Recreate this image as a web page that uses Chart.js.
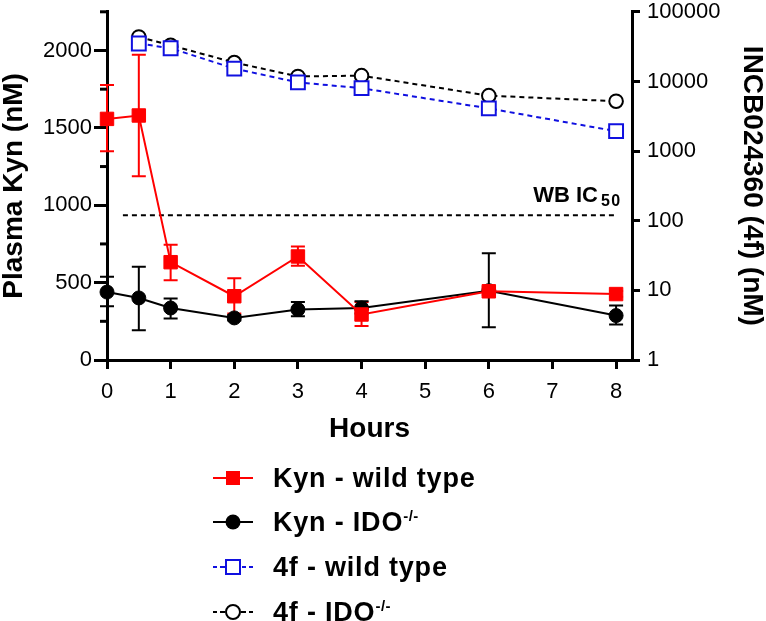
<!DOCTYPE html>
<html><head><meta charset="utf-8">
<script src="https://cdn.jsdelivr.net/npm/chart.js@4/dist/chart.umd.min.js"></script>
<style>
html,body{margin:0;padding:0;background:#fff;}
#wrap{position:relative;width:766px;height:621px;overflow:hidden;}
#c{position:absolute;left:0;top:0;}
.leg{position:absolute;left:212px;height:40px;display:flex;align-items:center;font-family:'Liberation Sans',Arial,sans-serif;font-weight:bold;font-size:27px;letter-spacing:0.8px;color:#000;white-space:nowrap;}
.leg svg{width:42px;height:24px;margin-right:19px;flex:none;}
.leg sup{font-size:15px;vertical-align:10px;line-height:0;letter-spacing:0.5px;}
</style></head>
<body>
<div id="wrap">
<canvas id="c" width="766" height="621"></canvas>
<div class="leg" style="top:458px"><svg viewBox="0 0 42 24"><line x1="1" y1="12" x2="41" y2="12" stroke="#ff0000" stroke-width="2"/><rect x="14" y="5" width="14" height="14" fill="#ff0000"/></svg><span id="l0"></span></div>
<div class="leg" style="top:502px"><svg viewBox="0 0 42 24"><line x1="1" y1="12" x2="41" y2="12" stroke="#000" stroke-width="2"/><circle cx="21" cy="12" r="7.5" fill="#000"/></svg><span id="l1"></span></div>
<div class="leg" style="top:547px"><svg viewBox="0 0 42 24"><g stroke="#1010e0" stroke-width="2"><line x1="1" y1="12" x2="5" y2="12"/><line x1="8" y1="12" x2="13" y2="12"/><line x1="30" y1="12" x2="34" y2="12"/><line x1="37" y1="12" x2="41" y2="12"/><rect x="14" y="5" width="14" height="14" fill="#fff"/></g></svg><span id="l2"></span></div>
<div class="leg" style="top:592px"><svg viewBox="0 0 42 24"><g stroke="#000" stroke-width="2"><line x1="1" y1="12" x2="5" y2="12"/><line x1="8" y1="12" x2="13" y2="12"/><line x1="29" y1="12" x2="34" y2="12"/><line x1="37" y1="12" x2="41" y2="12"/><circle cx="21" cy="12" r="7" fill="#fff"/></g></svg><span id="l3"></span></div>
</div>
<script>
// ---- data ----
const hours = [0, 0.5, 1, 2, 3, 4, 6, 8];
const kynWildType = [1558, 1580, 632, 412, 669, 294, 444, 426];
const kynWildTypeHi = [1777, 1972, 744, 529, 733, 375, 470, 446];
const kynWildTypeLo = [1349, 1188, 516, 300, 609, 219, 420, 408];
const kynIDO = [439, 401, 336, 272, 326, 336, 448, 287];
const kynIDOHi = [538, 603, 397, 290, 375, 379, 690, 352];
const kynIDOLo = [347, 193, 268, 255, 283, 300, 212, 229];
const hours4f = [0.5, 1, 2, 3, 4, 6, 8];
const f4WildType = [35000, 30000, 15300, 9700, 8000, 4100, 1930];
const f4IDO = [43500, 33000, 18700, 11800, 12100, 6250, 5200];
const ic50Hours = [0.25, 8];
const ic50Value = [120, 120];
const ic50Label = 'WB IC';
const ic50Sub = '50';
const xTicks = [0, 1, 2, 3, 4, 5, 6, 7, 8];
const yLeftTicks = [0, 500, 1000, 1500, 2000];
const yLeftMinor = [250, 750, 1250, 1750, 2250];
const yRightTicks = [1, 10, 100, 1000, 10000, 100000];
const seriesNames = ['Kyn - wild type', 'Kyn - IDO', '4f - wild type', '4f - IDO'];
const seriesSup = ['', '-/-', '', '-/-'];
const xTitle = 'Hours';
const yLeftTitle = 'Plasma Kyn (nM)';
const yRightTitle = 'INCB024360 (4f) (nM)';

// legend text
seriesNames.forEach((n, i) => {
  const el = document.getElementById('l' + i);
  el.textContent = n;
  if (seriesSup[i]) { const s = document.createElement('sup'); s.textContent = seriesSup[i]; el.appendChild(s); }
});

const FONT = "'Liberation Sans', Arial, sans-serif";
const pts = (xs, ys) => xs.map((x, i) => ({x: x, y: ys[i]}));

const extras = {
  id: 'extras',
  beforeDatasetsDraw(chart) {
    const ctx = chart.ctx, xs = chart.scales.x;
    chart.data.datasets.forEach(ds => {
      if (!ds.errHi) return;
      const ys = chart.scales[ds.yAxisID || 'y'];
      ctx.save();
      ctx.strokeStyle = ds.borderColor; ctx.lineWidth = 2;
      ds.data.forEach((p, j) => {
        const x = xs.getPixelForValue(p.x);
        const yh = ys.getPixelForValue(ds.errHi[j]), yl = ys.getPixelForValue(ds.errLo[j]);
        ctx.beginPath();
        ctx.moveTo(x, yh); ctx.lineTo(x, yl);
        ctx.moveTo(x - 7, yh); ctx.lineTo(x + 7, yh);
        ctx.moveTo(x - 7, yl); ctx.lineTo(x + 7, yl);
        ctx.stroke();
      });
      ctx.restore();
    });
  },
  afterDraw(chart) {
    const ctx = chart.ctx, y = chart.scales.y, y2 = chart.scales.y2, xs = chart.scales.x;
    ctx.save();
    ctx.strokeStyle = '#000'; ctx.lineWidth = 3;
    yLeftMinor.forEach(v => {
      const py = y.getPixelForValue(v);
      ctx.beginPath(); ctx.moveTo(chart.chartArea.left - 7, py); ctx.lineTo(chart.chartArea.left, py); ctx.stroke();
    });
    // IC50 label
    const lx = xs.getPixelForValue(ic50Hours[1]) + 4;
    const ly = y2.getPixelForValue(ic50Value[1]);
    ctx.fillStyle = '#000';
    ctx.textBaseline = 'alphabetic';
    ctx.font = 'bold 16px ' + FONT;
    const subText = ic50Sub.split('').join(String.fromCharCode(8202));
    const subW = ctx.measureText(subText).width + 2;
    ctx.textAlign = 'right';
    ctx.fillText(subText, lx, ly - 9);
    ctx.font = 'bold 22px ' + FONT;
    ctx.fillText(ic50Label, lx - subW - 1, ly - 13);
    ctx.restore();
  }
};

const zeroPad = s => { s.paddingTop = 0; s.paddingBottom = 0; s.paddingLeft = 0; s.paddingRight = 0; };

new Chart(document.getElementById('c'), {
  type: 'line',
  data: {
    datasets: [
      {label: seriesNames[0], data: pts(hours, kynWildType), errHi: kynWildTypeHi, errLo: kynWildTypeLo,
       yAxisID: 'y', borderColor: '#ff0000', backgroundColor: '#ff0000', borderWidth: 2,
       pointStyle: 'rect', pointRadius: 9.5, pointBorderWidth: 1, clip: false},
      {label: seriesNames[1], data: pts(hours, kynIDO), errHi: kynIDOHi, errLo: kynIDOLo,
       yAxisID: 'y', borderColor: '#000000', backgroundColor: '#000000', borderWidth: 2,
       pointStyle: 'circle', pointRadius: 7, pointBorderWidth: 1, clip: false},
      {label: seriesNames[2], data: pts(hours4f, f4WildType),
       yAxisID: 'y2', borderColor: '#1010e0', backgroundColor: '#ffffff', borderWidth: 2, borderDash: [5, 4],
       pointStyle: 'rect', pointRadius: 9.8, pointBorderWidth: 2, clip: false},
      {label: seriesNames[3], data: pts(hours4f, f4IDO),
       yAxisID: 'y2', borderColor: '#000000', backgroundColor: '#ffffff', borderWidth: 2, borderDash: [5, 4],
       pointStyle: 'circle', pointRadius: 6.8, pointBorderWidth: 2, clip: false},
      {label: 'WB IC50', data: pts(ic50Hours, ic50Value),
       yAxisID: 'y2', borderColor: '#000000', borderWidth: 2, borderDash: [5, 4], pointRadius: 0, clip: false}
    ]
  },
  options: {
    responsive: false, animation: false, devicePixelRatio: 1,
    layout: {padding: {top: 10, left: 0, right: 0, bottom: 0}},
    plugins: {legend: {display: false}, tooltip: {enabled: false}},
    scales: {
      x: {
        type: 'linear', position: 'bottom', min: 0, max: 8.25,
        afterBuildTicks: s => { s.ticks = xTicks.map(v => ({value: v})); },
        afterFit: s => { s.height = 261; zeroPad(s); },
        border: {display: true, color: '#000', width: 3},
        grid: {drawOnChartArea: false, drawTicks: true, tickLength: 9, color: '#000', lineWidth: 3, tickWidth: 3},
        ticks: {color: '#000', padding: 10, font: {family: FONT, size: 22}, callback: v => String(v), maxRotation: 0, autoSkip: false},
        title: {display: true, text: xTitle, color: '#000', font: {family: FONT, size: 28, weight: 'bold', lineHeight: 1}, padding: {top: 0, bottom: 177.5}}
      },
      y: {
        type: 'linear', position: 'left', min: 0, max: 2250,
        afterBuildTicks: s => { s.ticks = yLeftTicks.map(v => ({value: v})); },
        afterFit: s => { s.width = 107; zeroPad(s); },
        border: {display: true, color: '#000', width: 3},
        grid: {drawOnChartArea: false, drawTicks: true, tickLength: 13, color: '#000', lineWidth: 3, tickWidth: 3},
        ticks: {color: '#000', padding: 2, font: {family: FONT, size: 22}, callback: v => String(v), autoSkip: false},
        title: {display: true, text: yLeftTitle, color: '#000', font: {family: FONT, size: 28, weight: 'bold', lineHeight: 1}, padding: {top: 0.5, bottom: 0}}
      },
      y2: {
        type: 'logarithmic', position: 'right', min: 1, max: 100000,
        afterBuildTicks: s => { s.ticks = yRightTicks.map(v => ({value: v})); },
        afterFit: s => { s.width = 134; zeroPad(s); },
        border: {display: true, color: '#000', width: 3},
        grid: {drawOnChartArea: false, drawTicks: true, tickLength: 8, color: '#000', lineWidth: 3, tickWidth: 3},
        ticks: {color: '#000', padding: 7, font: {family: FONT, size: 22}, callback: v => String(v), autoSkip: false},
        title: {display: true, text: yRightTitle, color: '#000', font: {family: FONT, size: 28, weight: 'bold', lineHeight: 1}, padding: {top: 0, bottom: 0}}
      }
    }
  },
  plugins: [extras]
});
</script>
</body></html>
